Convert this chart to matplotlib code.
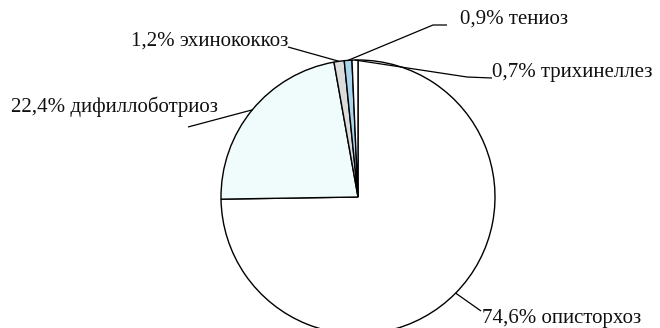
import numpy as np
import matplotlib
matplotlib.use("Agg")
import matplotlib.pyplot as plt

labels = ["74,6% описторхоз", "22,4% дифиллоботриоз", "1,2% эхинококкоз",
          "0,9% тениоз", "0,7% трихинеллез"]
values = [74.6, 22.4, 1.2, 0.9, 0.7]
colors = ["#ffffff", "#f0fbfb", "#dcdcdc", "#a9d6ee", "#ffffff"]

W, H = 660, 328
fig = plt.figure(figsize=(W / 100, H / 100), dpi=100)
ax = fig.add_axes([0, 0, 1, 1])

cx, cy, R = 358, H - 197, 137
wedges, _ = ax.pie(values, colors=colors, startangle=90, counterclock=False,
                   center=(cx, cy), radius=R,
                   wedgeprops=dict(edgecolor="black", linewidth=1.0))
ax.set_xlim(0, W)
ax.set_ylim(0, H)
ax.set_aspect("equal")
ax.axis("off")

# label layout: text position (pixel coords, y down), leader path after the anchor
layout = [
    dict(text=(482, 318), ha="left", path=[(481, 311)]),
    dict(text=(218, 107), ha="right", path=[(188, 127)]),
    dict(text=(288, 41), ha="right", path=[(288, 47)]),
    dict(text=(460, 19), ha="left", path=[(433, 25), (447, 25)]),
    dict(text=(492, 73), ha="left", path=[(467, 77), (492, 78)]),
]

for w, lab, lay in zip(wedges, labels, layout):
    ang = np.deg2rad((w.theta1 + w.theta2) / 2)
    ax_ = cx + R * np.cos(ang)
    ay_ = cy + R * np.sin(ang)
    xs = [ax_] + [p[0] for p in lay["path"]]
    ys = [ay_] + [H - p[1] for p in lay["path"]]
    ax.plot(xs, ys, color="black", lw=0.9, solid_capstyle="butt")
    tx, ty = lay["text"]
    ax.text(tx, H - ty, lab, ha=lay["ha"], va="center",
            fontsize=15, family="Liberation Serif", color="#111111")

fig.savefig("out.png", dpi=100)
